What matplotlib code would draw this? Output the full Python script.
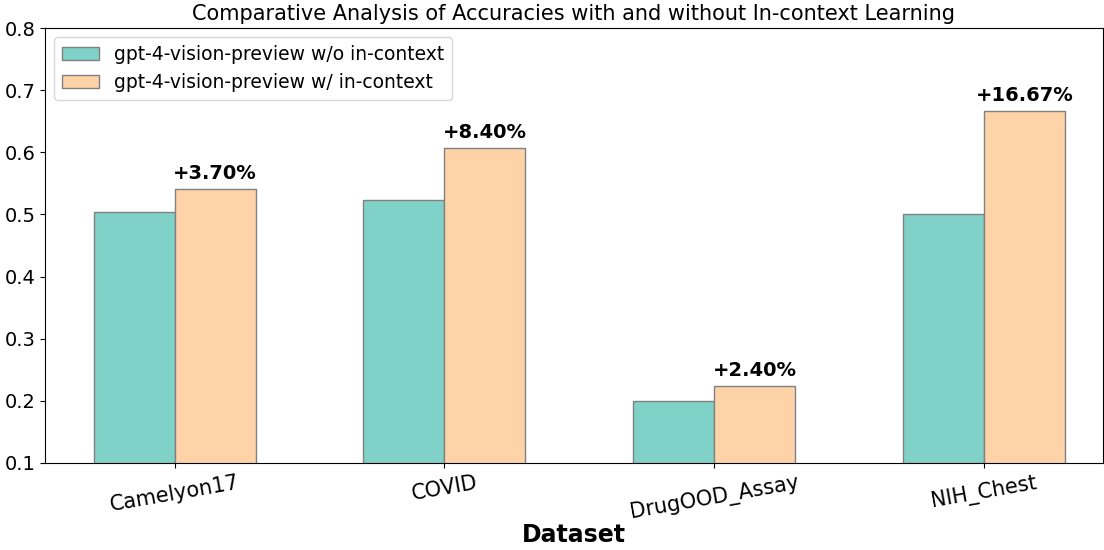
import numpy as np
import matplotlib
matplotlib.use("Agg")
import matplotlib.pyplot as plt

# data
datasets = ["Camelyon17", "COVID", "DrugOOD_Assay", "NIH_Chest"]
acc_without = [0.504, 0.523, 0.200, 0.500]
acc_with = [0.541, 0.607, 0.224, 0.6667]
gains = ["+3.70%", "+8.40%", "+2.40%", "+16.67%"]

x = np.arange(len(datasets))
width = 0.3

fig = plt.figure(figsize=(11.04, 5.5), dpi=100)
ax = fig.add_axes([45 / 1104, 1 - 463 / 550, 1058 / 1104, 435 / 550])

ax.bar(x - width / 2, acc_without, width, color="#80D1C8", edgecolor="grey",
       label="gpt-4-vision-preview w/o in-context")
ax.bar(x + width / 2, acc_with, width, color="#FFD3A8", edgecolor="grey",
       label="gpt-4-vision-preview w/ in-context")

# gain labels above the in-context bars
for i, v in enumerate(acc_with):
    ax.text(x[i] + width / 2, v + 0.009, gains[i], ha="center", va="bottom",
            fontsize=14, fontweight="bold")

ax.set_ylim(0.1, 0.8)
ax.set_xlim(-0.48, 3.44)
ax.set_xticks(x)
ax.set_xticklabels(datasets, rotation=10, fontsize=15)
ax.tick_params(axis="y", labelsize=14)
ax.set_xlabel("Dataset", fontsize=17, fontweight="bold", labelpad=0)
ax.set_title("Comparative Analysis of Accuracies with and without In-context Learning",
             fontsize=15, pad=6)
ax.legend(loc="upper left", fontsize=13.5)

fig.savefig("out.png", dpi=100)
